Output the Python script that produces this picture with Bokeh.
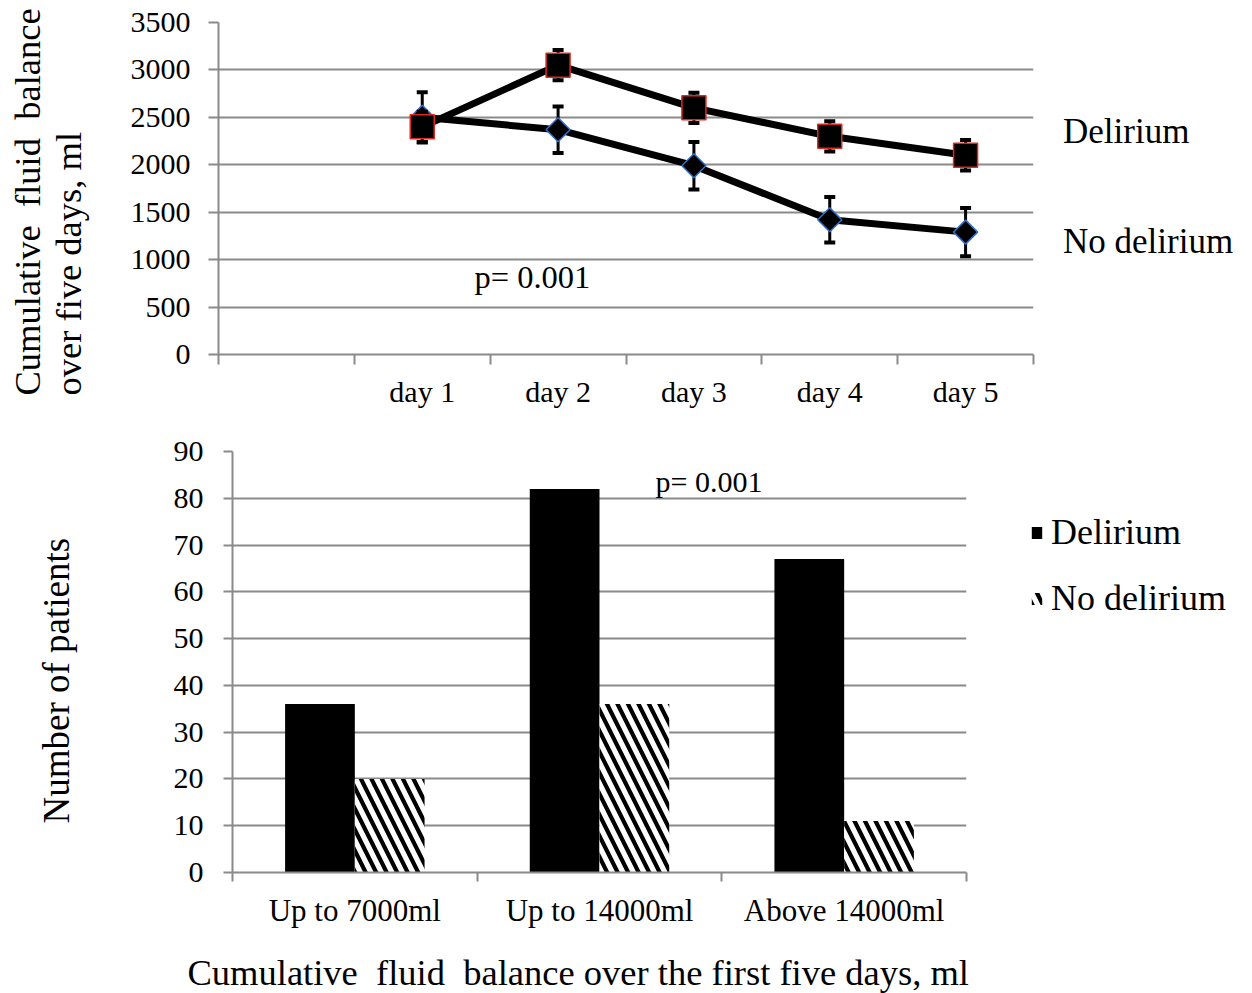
import math
from bokeh.plotting import figure
from bokeh.models import (Range1d, FixedTicker, Legend, LegendItem, Label,
                          ColumnDataSource, Title)
from bokeh.transform import dodge
from bokeh.embed import file_html
from bokeh.resources import INLINE

# ---------------- data ----------------
days = ["day 1", "day 2", "day 3", "day 4", "day 5"]
delirium_mean = [2400, 3050, 2600, 2300, 2100]
delirium_err = [160, 160, 160, 160, 160]
no_delirium_mean = [2500, 2370, 1990, 1420, 1290]
no_delirium_err = [265, 245, 250, 240, 255]
y1_ticks = [0, 500, 1000, 1500, 2000, 2500, 3000, 3500]

groups = ["Up to 7000ml", "Up to 14000ml", "Above 14000ml"]
delirium_n = [36, 82, 67]
no_delirium_n = [20, 36, 11]
y2_ticks = [0, 10, 20, 30, 40, 50, 60, 70, 80, 90]

FONT = "Liberation Serif"
GRID = "#8a8a8a"
NB = "\u00a0"


def style_axes(xax, yax, xsize, x_standoff, y_out, y_standoff):
    xax.major_tick_line_color = None
    xax.major_tick_out = 0
    xax.major_tick_in = 0
    xax.minor_tick_in = 0
    xax.minor_tick_out = 10
    xax.minor_tick_line_color = GRID
    xax.minor_tick_line_width = 2
    xax.axis_line_color = GRID
    xax.axis_line_width = 2
    xax.major_label_standoff = x_standoff
    xax.major_label_text_font = FONT
    xax.major_label_text_font_size = xsize
    xax.major_label_text_color = "black"
    yax.major_tick_in = 0
    yax.major_tick_out = y_out
    yax.major_tick_line_color = GRID
    yax.major_tick_line_width = 2
    yax.minor_tick_line_color = None
    yax.axis_line_color = GRID
    yax.axis_line_width = 2
    yax.major_label_standoff = y_standoff
    yax.major_label_text_font = FONT
    yax.major_label_text_font_size = "30px"
    yax.major_label_text_color = "black"


def spacer(axis, gap):
    # invisible axis label used only to push the title away from the axis
    axis.axis_label = NB
    axis.axis_label_text_font_size = "1px"
    axis.axis_label_standoff = gap


def title(text, size, offset, valign="bottom"):
    return Title(text=text, align="left", offset=offset, standoff=4,
                 vertical_align=valign,
                 text_font=FONT, text_font_size=size, text_font_style="normal",
                 text_color="black")


# ---------------- top chart ----------------
n_slots = len(days) + 1          # first category slot is empty
xpos = [i + 1.5 for i in range(len(days))]

p1 = figure(frame_width=815, frame_height=332, x_range=Range1d(0, n_slots),
            y_range=Range1d(y1_ticks[0], y1_ticks[-1]),
            output_backend="svg", toolbar_location=None,
            min_border_left=218, min_border_right=219,
            min_border_top=22, min_border_bottom=72)
p1.outline_line_color = None
p1.xgrid.visible = False
p1.ygrid.grid_line_color = GRID
p1.ygrid.grid_line_width = 2

xa = p1.xaxis[0]
xa.ticker = FixedTicker(ticks=xpos, minor_ticks=list(range(0, n_slots + 1)))
xa.major_label_overrides = {x: d for x, d in zip(xpos, days)}
ya = p1.yaxis[0]
ya.ticker = FixedTicker(ticks=y1_ticks)
style_axes(xa, ya, "30px", 10, 10, 18)
spacer(ya, 33)

src_nd = ColumnDataSource(dict(
    x=xpos, y=no_delirium_mean,
    lo=[m - e for m, e in zip(no_delirium_mean, no_delirium_err)],
    hi=[m + e for m, e in zip(no_delirium_mean, no_delirium_err)]))
src_d = ColumnDataSource(dict(
    x=xpos, y=delirium_mean,
    lo=[m - e for m, e in zip(delirium_mean, delirium_err)],
    hi=[m + e for m, e in zip(delirium_mean, delirium_err)]))

for src, size, angle, edge in ((src_nd, 17, math.pi / 4, "#2f6fc4"),
                               (src_d, 24, 0, "#e0281e")):
    p1.line("x", "y", source=src, line_width=7, line_color="black")
    p1.segment(x0="x", y0="lo", x1="x", y1="hi", source=src,
               line_width=3, line_color="black")
    p1.scatter("x", "hi", source=src, marker="dash", size=11,
               line_width=4, line_color="black")
    p1.scatter("x", "lo", source=src, marker="dash", size=11,
               line_width=4, line_color="black")
    p1.scatter("x", "y", source=src, marker="square", size=size, angle=angle,
               fill_color="black", line_color=edge, line_width=1.5)

# text-only series names at the right of the line chart
blank = p1.scatter(x=xpos[:1], y=delirium_mean[:1], alpha=0)
p1.add_layout(Legend(items=[LegendItem(label="Delirium", renderers=[blank]),
                            LegendItem(label="No delirium", renderers=[blank])],
                     location=(29, 92), glyph_width=1, glyph_height=1,
                     label_standoff=0, spacing=70, padding=0, margin=0,
                     border_line_color=None, background_fill_alpha=0,
                     label_text_font=FONT, label_text_font_size="35px",
                     label_text_color="black"), "right")

p1.add_layout(Label(x=256, y=78, x_units="screen", y_units="screen",
                    text="p= 0.001", text_font=FONT, text_font_size="32.5px",
                    text_color="black", text_baseline="alphabetic"))
p1.add_layout(title(f"Cumulative{NB} fluid{NB} balance\nover five days, ml",
                    "36.5px", -41), "left")

# ---------------- bottom chart ----------------
cx = [i + 0.5 for i in range(len(groups))]
src_b = ColumnDataSource(dict(x=cx, d=delirium_n, nd=no_delirium_n))

p2 = figure(frame_width=734, frame_height=421, x_range=Range1d(0, len(groups)),
            y_range=Range1d(y2_ticks[0], y2_ticks[-1]),
            output_backend="svg", toolbar_location=None,
            min_border_left=232, min_border_right=286,
            min_border_top=25, min_border_bottom=118)
p2.outline_line_color = None
p2.xgrid.visible = False
p2.ygrid.grid_line_color = GRID
p2.ygrid.grid_line_width = 2

bw = 0.285
r_d = p2.vbar(x=dodge("x", -bw / 2, range=p2.x_range), top="d", width=bw,
              source=src_b, fill_color="black", line_color=None)
r_nd = p2.vbar(x=dodge("x", bw / 2, range=p2.x_range), top="nd", width=bw,
               source=src_b, fill_color="white", line_color=None,
               hatch_pattern="left_diagonal_line", hatch_color="black",
               hatch_weight=4.2, hatch_scale=21)

xb = p2.xaxis[0]
xb.ticker = FixedTicker(ticks=cx, minor_ticks=list(range(0, len(groups) + 1)))
xb.major_label_overrides = {x: g for x, g in zip(cx, groups)}
yb = p2.yaxis[0]
yb.ticker = FixedTicker(ticks=y2_ticks)
style_axes(xb, yb, "31px", 11, 9, 20)
xb.minor_tick_out = 9
spacer(yb, 88)
spacer(xb, 13)

p2.add_layout(Legend(items=[LegendItem(label="Delirium", renderers=[r_d]),
                            LegendItem(label="No delirium", renderers=[r_nd])],
                     location=(64, 253), glyph_width=13, glyph_height=15,
                     label_standoff=8, spacing=24, padding=0, margin=0,
                     border_line_color=None, background_fill_alpha=0,
                     label_text_font=FONT, label_text_font_size="36px",
                     label_text_color="black"), "right")

p2.add_layout(Label(x=423, y=391, x_units="screen", y_units="screen",
                    text="p= 0.001", text_font=FONT, text_font_size="30px",
                    text_color="black", text_baseline="alphabetic"))
p2.add_layout(title("Number of patients", "37px", 49), "left")
p2.add_layout(title(f"Cumulative{NB} fluid{NB} balance over the first five days, ml",
                    "36.5px", -45), "below")

open("out.html", "w").write(file_html([p1, p2], INLINE))
